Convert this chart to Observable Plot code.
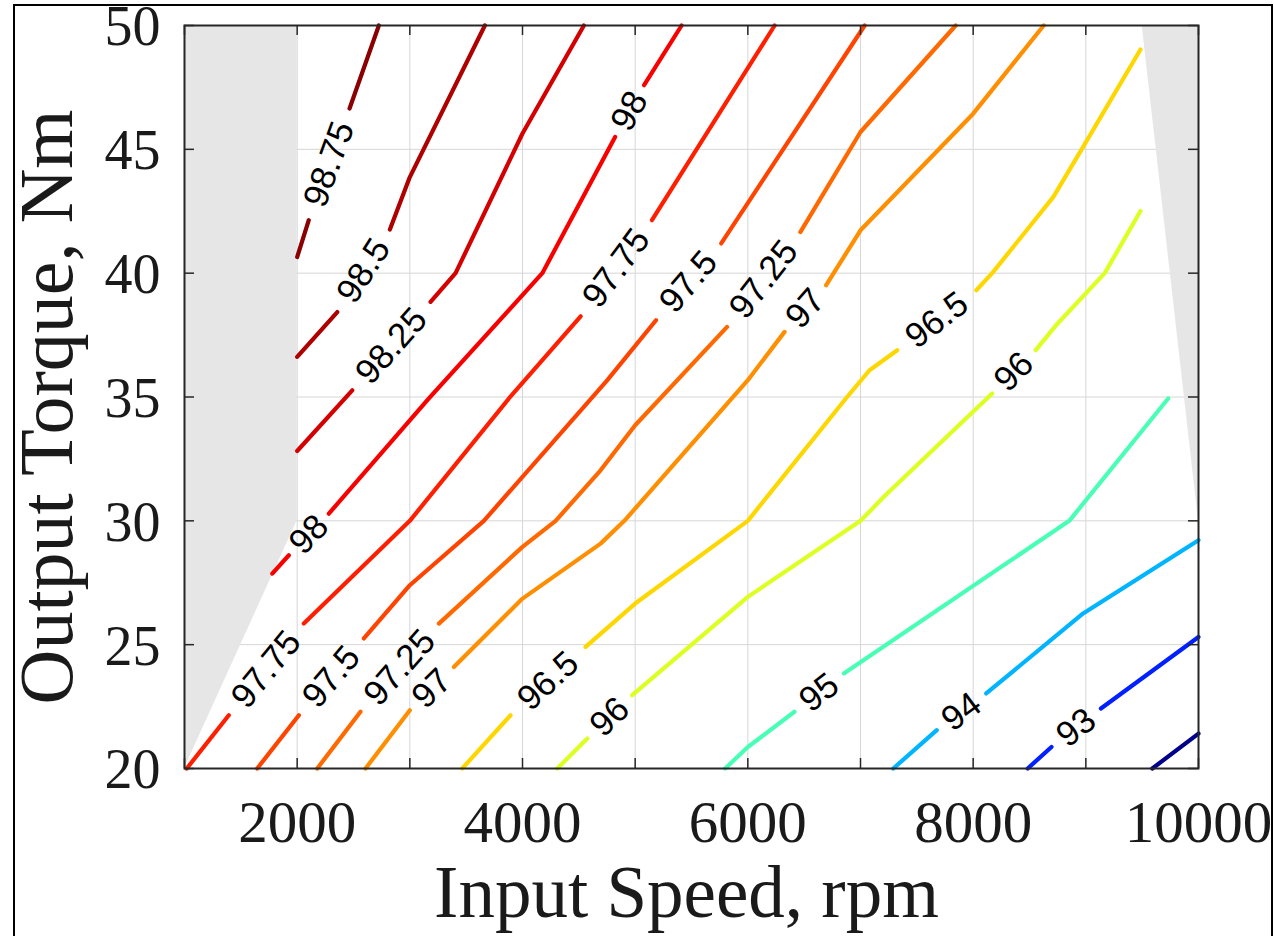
<!DOCTYPE html>
<html>
<head>
<meta charset="utf-8">
<script src="https://cdn.jsdelivr.net/npm/d3@7"></script>
<script src="https://cdn.jsdelivr.net/npm/@observablehq/plot@0.6"></script>
<style>
  html, body { margin: 0; padding: 0; background: #fff; overflow: hidden; }
  #wrap { position: relative; width: 1274px; height: 936px; overflow: hidden; }
  #wrap svg { display: block; }
  #border { position: absolute; left: 13px; top: 4px; width: 1260px; height: 1000px;
            box-sizing: border-box; border: 2px solid #000; pointer-events: none; }
</style>
</head>
<body>
<div id="wrap"><div id="border"></div></div>
<script>
// ---- data ----
// each contour: [speed rpm, torque Nm] vertices; null = break where the label sits
const c92    = [[9590,20],[10000,21.41]];
const c93    = [[8484,20],[8695,20.87],null,[9134,22.42],[10000,25.31]];
const c94    = [[7291,20],[7677,21.55],null,[8116,23.03],[8976,26.26],[10000,29.22]];
const c95    = [[5799,20],[6000,20.87],[6414,22.29],null,[6852,23.84],[8853,30],[9731,34.94]];
const c96    = [[4309,20],[4575,21.21],null,[4974,22.96],[6000,26.93],[7000,30],[7221,31.03],[8169,35.14],null,[8555,36.89],[8748,37.96],[9168,40],[9485,42.51]];
const c96_5  = [[3465,20],[3894,22.15],null,[4560,24.91],[5000,26.66],[6000,30],[6870,34.94],[7080,36.08],[7326,36.89],null,[8028,39.31],[8169,40],[8712,43.08],[8976,45.1],[9485,49.03]];
const c97    = [[2607,20],[3000,22.35],null,[3391,24.1],[4000,26.86],[4693,29.08],[4904,30],[6000,35.68],[6326,37.63],null,[6694,39.51],[7000,41.73],[8000,46.44],[8626,50]];
const c97_25 = [[2178,20],[2562,22.29],null,[3258,25.85],[4000,28.95],[4294,30],[4693,32.04],[5000,33.86],[5816,37.83],null,[6466,41.66],[7000,45.7],[7845,50]];
const c97_5  = [[1645,20],[2015,22.15],null,[2592,25.25],[3000,27.4],[3657,30],[4753,35.68],[5185,38.1],null,[5764,41.2],[7037,50]];
const c97_75 = [[1020,20],[1393,22.15],null,[2059,25.85],[3000,30],[3879,34.94],[4516,38.26],null,[5149,42.14],[6238,50]];
const c98    = [[1779,27.87],[1926,28.61],null,[2281,30.29],[3169,34.94],[4176,40],[4822,45.5],null,[5079,47.59],[5412,50]];
const c98_25 = [[2000,32.82],[2489,35.27],null,[3184,38.84],[3406,40],[4000,45.64],[4545,50]];
const c98_5  = [[2000,36.62],[2356,38.43],null,[2823,41.76],[3000,43.88],[3666,50]];
const c98_75 = [[2000,40.65],[2103,42.14],null,[2465,46.65],[2725,50]];

const levels   = [92, 93, 94, 95, 96, 96.5, 97, 97.25, 97.5, 97.75, 98, 98.25, 98.5, 98.75];
const contours = [c92, c93, c94, c95, c96, c96_5, c97, c97_25, c97_5, c97_75, c98, c98_25, c98_5, c98_75];

// infeasible (grey) regions: lower boundary, shaded up to the top torque
const greyLeft  = [[1000,20],[2000,30]];
const greyRight = [[9500,50],[10000,30]];
const torqueTop = 50;

const xTicksMinor = [1000,2000,3000,4000,5000,6000,7000,8000,9000,10000];
const xTickLabels = [2000,4000,6000,8000,10000];
const yTicks      = [20,25,30,35,40,45,50];
const colorDomain = [91.92, 98.82];

const xTitle = "Input Speed, rpm";
const yTitle = "Output Torque, Nm";

// ---- build ----
function jet(t) {
  const c = v => Math.max(0, Math.min(1, v));
  const r = c(Math.min(4*t - 1.5, -4*t + 4.5));
  const g = c(Math.min(4*t - 0.5, -4*t + 3.5));
  const b = c(Math.min(4*t + 0.5, -4*t + 2.5));
  return `rgb(${Math.round(r*255)},${Math.round(g*255)},${Math.round(b*255)})`;
}

const W = 1274, H = 936, ML = 184, MR = 76, MT = 25, MB = 168;
const plotW = W - ML - MR, plotH = H - MT - MB;
const tickLen = 10;

const rows = [];
contours.forEach((pts, i) => {
  for (const p of pts) rows.push(p ? {level: levels[i], x: p[0], y: p[1]} : {level: levels[i], x: NaN, y: NaN});
});
const greyRows = [
  ...greyLeft.map(([x, y]) => ({x, y1: y, y2: torqueTop, g: "L"})),
  ...greyRight.map(([x, y]) => ({x, y1: y, y2: torqueTop, g: "R"}))
];

const baseOpts = {
  width: W, height: H,
  marginLeft: ML, marginRight: MR, marginTop: MT, marginBottom: MB,
  x: {domain: [1000, 10000]},
  y: {domain: [20, 50]},
  color: {type: "linear", domain: colorDomain, interpolate: jet},
  style: {background: "white", fontFamily: "Liberation Serif", overflow: "visible"}
};

function marks(labels) {
  const serif = "Liberation Serif";
  return [
    Plot.gridX(xTicksMinor, {stroke: "#d6d6d6", strokeOpacity: 1}),
    Plot.gridY(yTicks, {stroke: "#d6d6d6", strokeOpacity: 1}),
    Plot.areaY(greyRows, {x: "x", y1: "y1", y2: "y2", z: "g", fill: "#e6e6e6"}),
    Plot.line(rows, {x: "x", y: "y", z: "level", stroke: "level", strokeWidth: 4.2}),
    labels ? Plot.text(labels, {x: "x", y: "y", text: "text", rotate: "angle",
      fontSize: 35, fontFamily: "Liberation Sans, Arial, sans-serif", fill: "#000"}) : null,
    // inward ticks on all four sides
    Plot.tickX(xTicksMinor, {x: d => d, insetTop: plotH - tickLen, stroke: "#262626", strokeWidth: 1.5}),
    Plot.tickX(xTicksMinor, {x: d => d, insetBottom: plotH - tickLen, stroke: "#262626", strokeWidth: 1.5}),
    Plot.tickY(yTicks, {y: d => d, insetRight: plotW - tickLen, stroke: "#262626", strokeWidth: 1.5}),
    Plot.tickY(yTicks, {y: d => d, insetLeft: plotW - tickLen, stroke: "#262626", strokeWidth: 1.5}),
    Plot.frame({stroke: "#262626", strokeWidth: 2}),
    Plot.axisX(xTickLabels, {tickSize: 0, tickPadding: 32, tickFormat: "d", label: null,
      fontSize: 59, fontFamily: serif, fill: "#1a1a1a"}),
    Plot.axisY(yTicks, {tickSize: 0, tickPadding: 24, tickFormat: "d", label: null,
      fontSize: 56, fontFamily: serif, fill: "#1a1a1a", dy: 2}),
    Plot.text([xTitle], {text: d => d, frameAnchor: "bottom", textAnchor: "middle", lineAnchor: "middle",
      dy: 125, dx: -5, fontSize: 73, fontFamily: serif, fill: "#1a1a1a"}),
    Plot.text([yTitle], {text: d => d, frameAnchor: "left", textAnchor: "middle", lineAnchor: "middle",
      rotate: -90, dx: -137, dy: 10, fontSize: 76, fontFamily: serif, fill: "#1a1a1a"})
  ].filter(Boolean);
}

// first pass: get the plot's own scales to orient labels along the lines
const base = Plot.plot({...baseOpts, marks: marks(null)});
const sx = base.scale("x"), sy = base.scale("y");
const labels = [];
contours.forEach((pts, i) => {
  for (let k = 1; k < pts.length - 1; k++) {
    if (pts[k] !== null) continue;
    const a = pts[k - 1], b = pts[k + 1];
    const ang = Math.atan2(sy.apply(b[1]) - sy.apply(a[1]), sx.apply(b[0]) - sx.apply(a[0])) * 180 / Math.PI;
    labels.push({x: (a[0] + b[0]) / 2, y: (a[1] + b[1]) / 2, text: String(levels[i]), angle: ang});
  }
});

const chart = Plot.plot({...baseOpts, marks: marks(labels)});
document.getElementById("wrap").insertBefore(chart, document.getElementById("border"));
</script>
</body>
</html>
